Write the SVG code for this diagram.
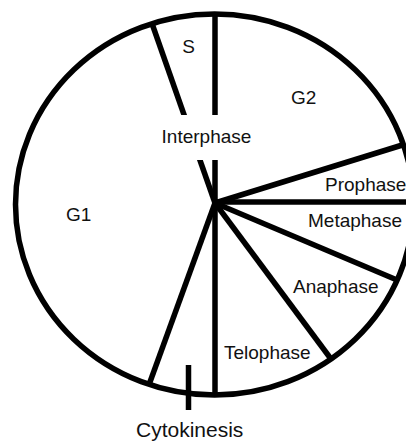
<svg xmlns="http://www.w3.org/2000/svg" width="406" height="441" viewBox="0 0 406 441">
  <style>
    .rim { fill: none; stroke: #000; stroke-width: 5.5; }
    .div { stroke: #000; stroke-width: 5.5; stroke-linecap: butt; fill: none; }
    .lbl { font-family: "Liberation Sans", Arial, Helvetica, sans-serif; font-size: 19px; fill: #111; }
    .big { font-size: 21px; }
  </style>
  <rect width="406" height="441" fill="#fff"/>

  <!-- cell cycle wheel -->
  <g id="wheel">
    <ellipse class="rim" cx="214.5" cy="204.5" rx="199" ry="190.5"/>
  </g>

  <!-- phase dividers radiating from the hub -->
  <g id="connectors">
    <line class="div" x1="215" y1="203" x2="215" y2="14"/>
    <line class="div" x1="215" y1="203" x2="152" y2="23.5"/>
    <line class="div" x1="215" y1="203" x2="404" y2="144.5"/>
    <line class="div" x1="215" y1="202" x2="410" y2="202"/>
    <line class="div" x1="215" y1="203" x2="397" y2="280"/>
    <line class="div" x1="215" y1="203" x2="331" y2="359"/>
    <line class="div" x1="215" y1="203" x2="215" y2="395"/>
    <line class="div" x1="215" y1="203" x2="149" y2="384.7"/>
    <line class="div" x1="188.5" y1="365" x2="188.5" y2="410"/>
  </g>

  <g id="interphase">
    <rect x="158" y="115" width="98" height="45" fill="#fff"/>
    <text class="lbl" x="206.5" y="143" text-anchor="middle">Interphase</text>
  </g>
  <g id="s"><text class="lbl" x="188.5" y="53" text-anchor="middle">S</text></g>
  <g id="g2"><text class="lbl" x="291" y="104">G2</text></g>
  <g id="g1"><text class="lbl" x="66" y="221">G1</text></g>
  <g id="prophase"><text class="lbl" x="325" y="191">Prophase</text></g>
  <g id="metaphase"><text class="lbl" x="308" y="227">Metaphase</text></g>
  <g id="anaphase"><text class="lbl" x="293" y="293">Anaphase</text></g>
  <g id="telophase"><text class="lbl" x="224" y="359">Telophase</text></g>
  <g id="cytokinesis"><text class="lbl big" x="136" y="437">Cytokinesis</text></g>
</svg>
